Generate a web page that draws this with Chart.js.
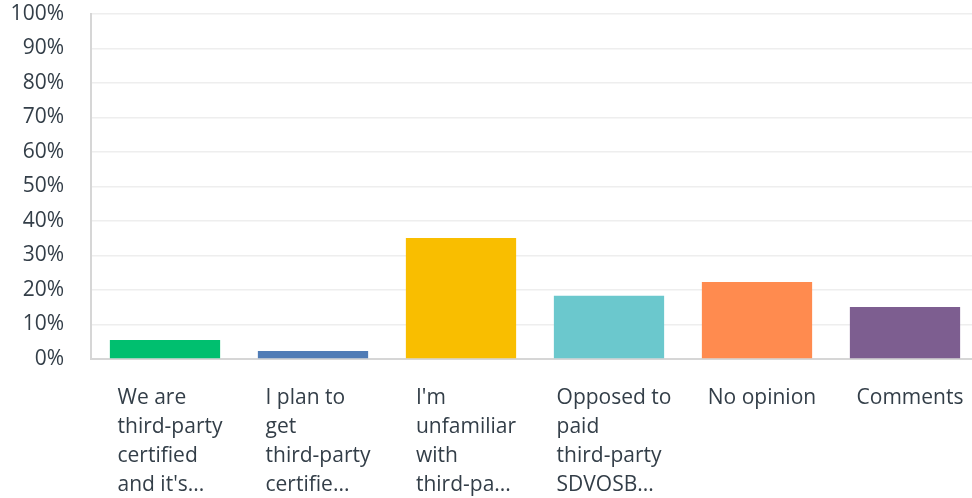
<!DOCTYPE html>
<html>
<head>
<meta charset="utf-8">
<script src="https://cdn.jsdelivr.net/npm/chart.js@4.4.1/dist/chart.umd.min.js"></script>
<style>
  html, body { margin: 0; padding: 0; background: #fff; overflow: hidden; }
  #wrap { width: 980px; height: 498px; }
</style>
</head>
<body>
<div id="wrap"><canvas id="chart" width="980" height="498"></canvas></div>
<script>
  // answer choices, already cut the way the survey tool shows them
  const categories = [
    ["We are", "third-party", "certified", "and it's..."],
    ["I plan to", "get", "third-party", "certifie..."],
    ["I'm", "unfamiliar", "with", "third-pa..."],
    ["Opposed to", "paid", "third-party", "SDVOSB..."],
    ["No opinion"],
    ["Comments"]
  ];
  const percents = [5.5, 2.3, 35.1, 18.3, 22.3, 15.1];
  const barColors = ["#00bf6f", "#507cb6", "#f9be00", "#6bc8cd", "#ff8b4f", "#7d5e90"];
  const yTicks = [0, 10, 20, 30, 40, 50, 60, 70, 80, 90, 100];

  const textColor = "#333e48";
  const fontFamily = "'Open Sans', sans-serif";

  // draws the x labels as left aligned blocks centred under each bar
  const blockLabels = {
    id: "blockLabels",
    afterDraw(chart) {
      const ctx = chart.ctx;
      const x = chart.scales.x;
      ctx.save();
      ctx.font = "21px " + fontFamily;
      ctx.fillStyle = textColor;
      ctx.textAlign = "left";
      ctx.textBaseline = "alphabetic";
      categories.forEach((lines, i) => {
        let w = 0;
        lines.forEach(l => { w = Math.max(w, ctx.measureText(l).width); });
        const left = x.getPixelForValue(i) - w / 2 + 5;
        lines.forEach((l, j) => {
          ctx.fillText(l, left, x.bottom - 94 + j * 29);
        });
      });
      ctx.restore();
    }
  };

  new Chart(document.getElementById("chart"), {
    type: "bar",
    data: {
      labels: categories,
      datasets: [{
        data: percents,
        backgroundColor: barColors,
        borderWidth: 0,
        categoryPercentage: 1,
        barPercentage: 0.745
      }]
    },
    options: {
      responsive: false,
      animation: false,
      layout: { padding: { top: 14, right: 1, left: 0, bottom: 0 } },
      plugins: { legend: { display: false }, tooltip: { enabled: false } },
      scales: {
        x: {
          ticks: { display: false },
          grid: { display: false },
          border: { color: "#d6d6d6", width: 2 },
          afterFit(scale) { scale.height = 139; }
        },
        y: {
          min: 0,
          max: 100,
          afterBuildTicks(scale) { scale.ticks = yTicks.map(v => ({ value: v })); },
          ticks: {
            padding: 27,
            color: textColor,
            font: { family: fontFamily, size: 21 },
            callback: v => v + "%"
          },
          grid: { color: "#eeeeee", lineWidth: 1.5, drawTicks: false },
          border: { color: "#d6d6d6", width: 2 },
          afterFit(scale) {
            scale.width = 91;
            scale.paddingTop = 0;
            scale.paddingBottom = 0;
          }
        }
      }
    },
    plugins: [blockLabels]
  });
</script>
</body>
</html>
